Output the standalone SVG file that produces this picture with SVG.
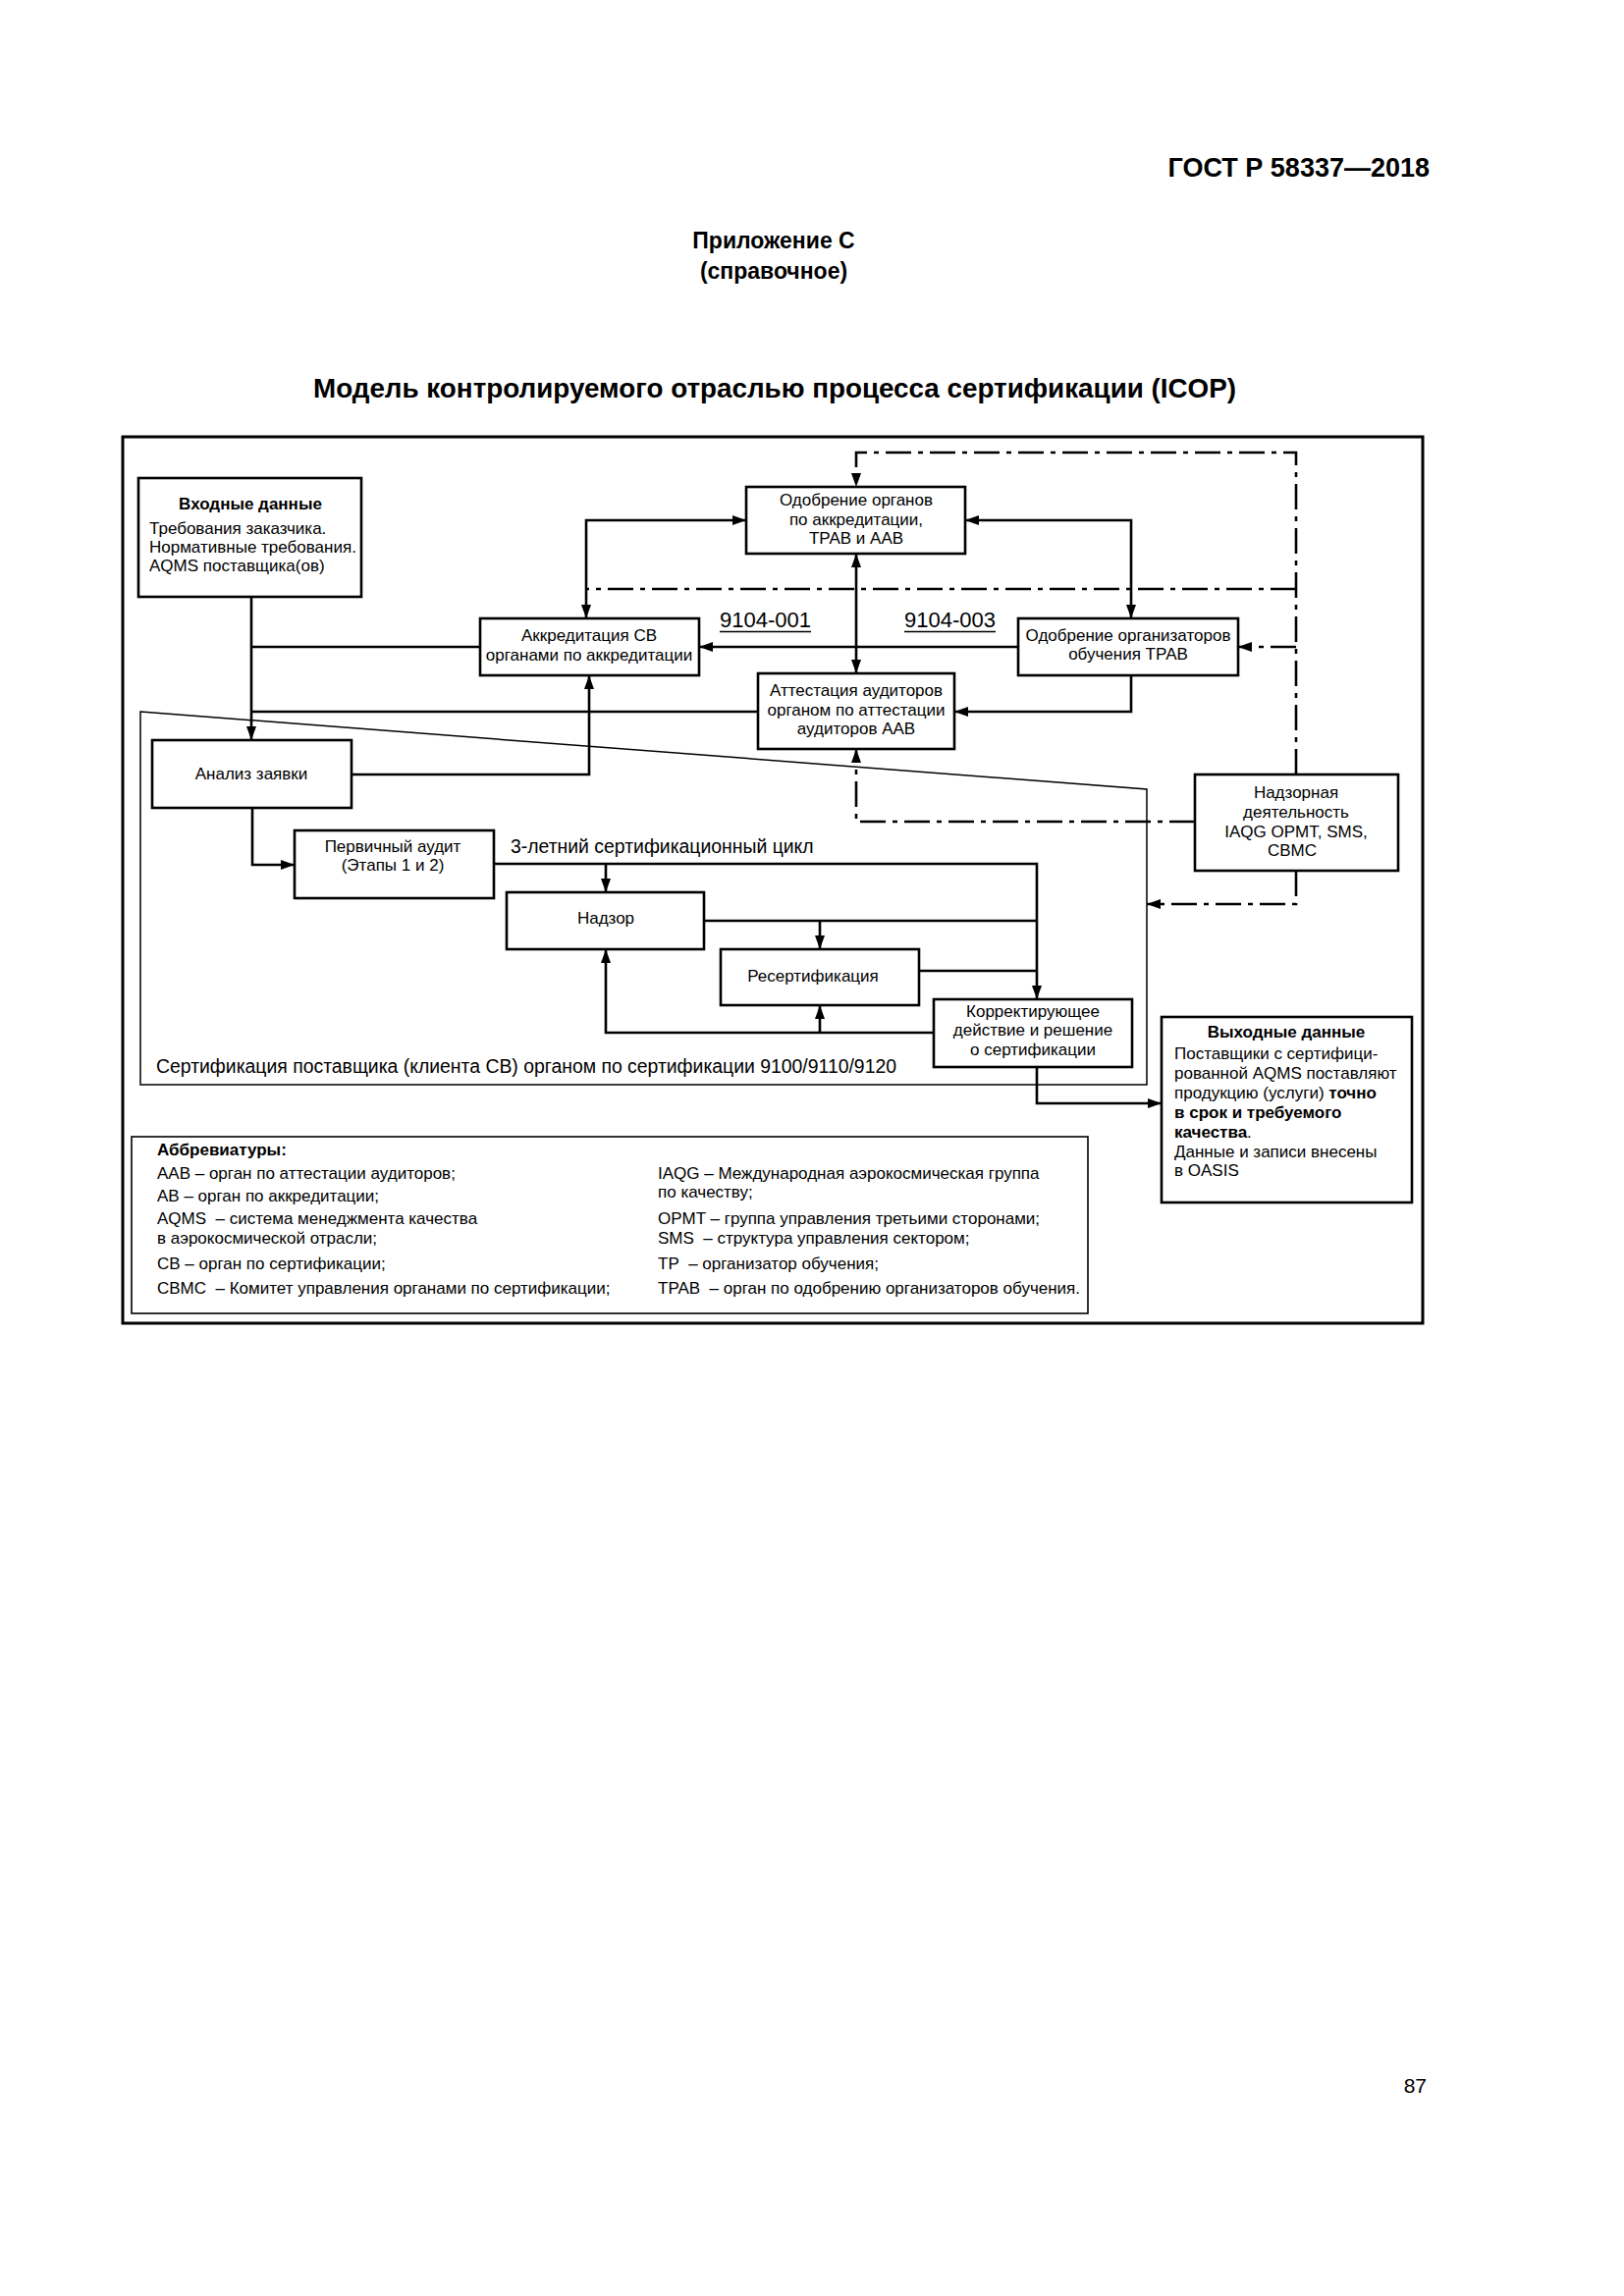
<svg xmlns="http://www.w3.org/2000/svg" width="1654" height="2339" viewBox="0 0 1654 2339">
<style>
text{font-family:"Liberation Sans",Arial,sans-serif;fill:#000}
.b{fill:#fff;stroke:#000;stroke-width:2.6}
.t{font-size:17px}
.c{text-anchor:middle}
.bold{font-weight:bold}
.ln{fill:none;stroke:#000;stroke-width:2.6}
.dd{fill:none;stroke:#000;stroke-width:2.6;stroke-dasharray:26 7 5 7}
.thin{fill:none;stroke:#000;stroke-width:1.5}
.lbl{font-size:19.4px}
</style>
<defs>
<marker id="ah" viewBox="0 0 14 10" refX="14" refY="5" markerWidth="14" markerHeight="10" markerUnits="userSpaceOnUse" orient="auto-start-reverse">
<path d="M0,0 L14,5 L0,10 z" fill="#000"/>
</marker>
</defs>
<rect width="1654" height="2339" fill="#fff"/>
<g id="page-texts">
<text x="1456" y="180" font-size="27" font-weight="bold" text-anchor="end">ГОСТ Р 58337—2018</text>
<text x="788" y="253" font-size="23" font-weight="bold" text-anchor="middle">Приложение С</text>
<text x="788" y="284" font-size="23" font-weight="bold" text-anchor="middle">(справочное)</text>
<text x="789" y="405" font-size="27.8" font-weight="bold" text-anchor="middle">Модель контролируемого отраслью процесса сертификации (ICOP)</text>
<text x="1453" y="2132" font-size="21" text-anchor="end">87</text>
</g>
<rect id="frame" x="125" y="445" width="1324" height="903" fill="none" stroke="#000" stroke-width="3"/>
<g id="cert-area">
<path class="thin" d="M143,725 L1168,804 L1168,1105 L143,1105 Z"/>
<text class="lbl" x="159" y="1093">Сертификация поставщика (клиента CB) органом по сертификации 9100/9110/9120</text>
</g>
<g id="connectors">
<path class="ln" d="M256,608 V754" marker-end="url(#ah)"/>
<path class="ln" d="M256,659 H489"/>
<path class="ln" d="M256,725 H772"/>
<path class="ln" d="M358,789 H600 V688" marker-end="url(#ah)"/>
<path class="ln" d="M597,630 V530 H760" marker-start="url(#ah)" marker-end="url(#ah)"/>
<path class="ln" d="M983,530 H1152 V630" marker-start="url(#ah)" marker-end="url(#ah)"/>
<path class="ln" d="M872,564 V686" marker-start="url(#ah)" marker-end="url(#ah)"/>
<path class="ln" d="M1037,659 H712" marker-end="url(#ah)"/>
<path class="ln" d="M1152,688 V725 H972" marker-end="url(#ah)"/>
<path class="dd" d="M1320,789 V461 H872 V496" marker-end="url(#ah)"/>
<path class="dd" d="M1320,600 H597"/>
<path class="dd" d="M1320,659 H1261" marker-end="url(#ah)"/>
<path class="dd" d="M1217,837 H872 V763" marker-end="url(#ah)"/>
<path class="dd" d="M1320,887 V921 H1168" marker-end="url(#ah)"/>
<path class="ln" d="M257,823 V881 H300" marker-end="url(#ah)"/>
<path class="ln" d="M503,880 H1056 V1018" marker-end="url(#ah)"/>
<path class="ln" d="M617,880 V909" marker-end="url(#ah)"/>
<path class="ln" d="M717,938 H1056"/>
<path class="ln" d="M835,938 V967" marker-end="url(#ah)"/>
<path class="ln" d="M936,989 H1056"/>
<path class="ln" d="M951,1052 H617 V967" marker-end="url(#ah)"/>
<path class="ln" d="M835,1052 V1024" marker-end="url(#ah)"/>
<path class="ln" d="M1056,1087 V1124 H1183" marker-end="url(#ah)"/>
<text x="733" y="639" font-size="22">9104-001</text>
<path class="thin" d="M733,643.5 H826"/>
<text x="921" y="639" font-size="22">9104-003</text>
<path class="thin" d="M921,643.5 H1014"/>
<text class="lbl" x="520" y="869">3-летний сертификационный цикл</text>
</g>
<g id="node-inputs">
<rect class="b" x="141" y="487" width="227" height="121"/>
<text class="t c bold" x="255" y="519">Входные данные</text>
<text class="t" x="152" y="544">Требования заказчика.</text>
<text class="t" x="152" y="563">Нормативные требования.</text>
<text class="t" x="152" y="582">AQMS поставщика(ов)</text>
</g>
<g id="node-approval-ab">
<rect class="b" x="760" y="496" width="223" height="68"/>
<text class="t c" x="872" y="515">Одобрение органов</text>
<text class="t c" x="872" y="535">по аккредитации,</text>
<text class="t c" x="872" y="554">ТРАВ и ААВ</text>
</g>
<g id="node-accreditation">
<rect class="b" x="489" y="630" width="223" height="58"/>
<text class="t c" x="600" y="653">Аккредитация СВ</text>
<text class="t c" x="600" y="673">органами по аккредитации</text>
</g>
<g id="node-trab">
<rect class="b" x="1037" y="630" width="224" height="58"/>
<text class="t c" x="1149" y="653">Одобрение организаторов</text>
<text class="t c" x="1149" y="672">обучения ТРАВ</text>
</g>
<g id="node-aab">
<rect class="b" x="772" y="686" width="200" height="77"/>
<text class="t c" x="872" y="709">Аттестация аудиторов</text>
<text class="t c" x="872" y="729">органом по аттестации</text>
<text class="t c" x="872" y="748">аудиторов ААВ</text>
</g>
<g id="node-analysis">
<rect class="b" x="155" y="754" width="203" height="69"/>
<text class="t c" x="256" y="794">Анализ заявки</text>
</g>
<g id="node-oversight">
<rect class="b" x="1217" y="789" width="207" height="98"/>
<text class="t c" x="1320" y="813">Надзорная</text>
<text class="t c" x="1320" y="833">деятельность</text>
<text class="t c" x="1320" y="853">IAQG OPMT, SMS,</text>
<text class="t c" x="1316" y="872">CBMC</text>
</g>
<g id="node-initial-audit">
<rect class="b" x="300" y="846" width="203" height="69"/>
<text class="t c" x="400" y="868">Первичный аудит</text>
<text class="t c" x="400" y="887">(Этапы 1 и 2)</text>
</g>
<g id="node-surveillance">
<rect class="b" x="516" y="909" width="201" height="58"/>
<text class="t c" x="617" y="941">Надзор</text>
</g>
<g id="node-recert">
<rect class="b" x="734" y="967" width="202" height="57"/>
<text class="t c" x="828" y="1000">Ресертификация</text>
</g>
<g id="node-corrective">
<rect class="b" x="951" y="1018" width="202" height="69"/>
<text class="t c" x="1052" y="1036">Корректирующее</text>
<text class="t c" x="1052" y="1055">действие и решение</text>
<text class="t c" x="1052" y="1075">о сертификации</text>
</g>
<g id="node-outputs">
<rect class="b" x="1183" y="1036" width="255" height="189"/>
<text class="t c bold" x="1310" y="1057">Выходные данные</text>
<text class="t" x="1196" y="1079">Поставщики с сертифици-</text>
<text class="t" x="1196" y="1099">рованной AQMS поставляют</text>
<text class="t" x="1196" y="1119">продукцию (услуги) <tspan font-weight="bold">точно</tspan></text>
<text class="t bold" x="1196" y="1139">в срок и требуемого</text>
<text class="t" x="1196" y="1159"><tspan font-weight="bold">качества</tspan>.</text>
<text class="t" x="1196" y="1179">Данные и записи внесены</text>
<text class="t" x="1196" y="1198">в OASIS</text>
</g>
<g id="abbreviations">
<rect x="134" y="1158" width="974" height="180" fill="none" stroke="#000" stroke-width="1.6"/>
<text class="t bold" x="160" y="1177">Аббревиатуры:</text>
<text class="t" x="160" y="1201">ААВ – орган по аттестации аудиторов;</text>
<text class="t" x="160" y="1224">АВ – орган по аккредитации;</text>
<text class="t" x="160" y="1247">AQMS&#160; – система менеджмента качества</text>
<text class="t" x="160" y="1267">в аэрокосмической отрасли;</text>
<text class="t" x="160" y="1293">СВ – орган по сертификации;</text>
<text class="t" x="160" y="1318">СВМС&#160; – Комитет управления органами по сертификации;</text>
<text class="t" x="670" y="1201">IAQG – Международная аэрокосмическая группа</text>
<text class="t" x="670" y="1220">по качеству;</text>
<text class="t" x="670" y="1247">OPMT – группа управления третьими сторонами;</text>
<text class="t" x="670" y="1267">SMS&#160; – структура управления сектором;</text>
<text class="t" x="670" y="1293">TP&#160; – организатор обучения;</text>
<text class="t" x="670" y="1318">TPAB&#160; – орган по одобрению организаторов обучения.</text>
</g>
</svg>
